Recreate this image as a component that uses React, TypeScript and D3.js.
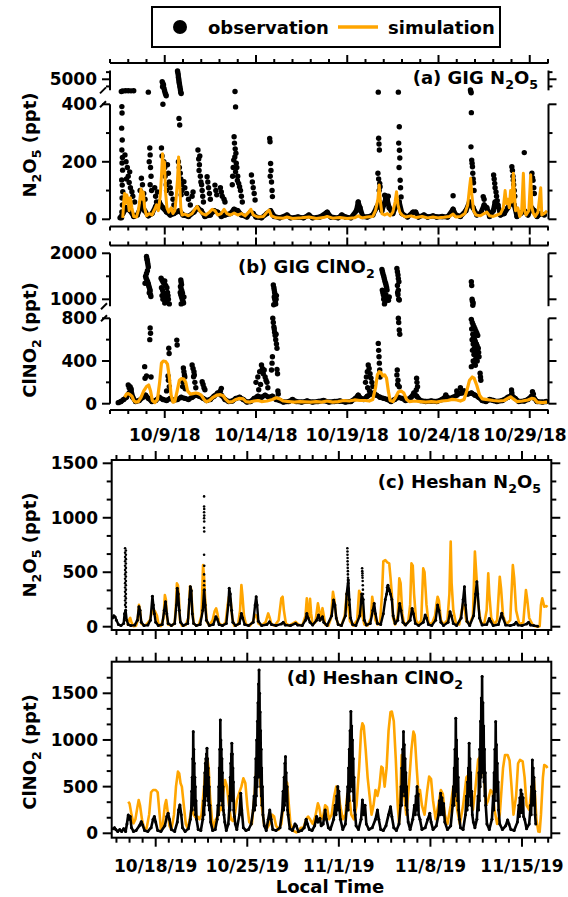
import React from "react";
import * as d3 from "d3";

type P = [number, number];

// ---------- GIG 2018: time in days after 2018-10-06 00:00 ----------
const gigN2O5Sim: P[] = [
  [0.70,5],[0.75,60],[0.80,90],[0.85,55],[0.92,85],[0.98,70],[1.05,30],[1.12,75],[1.20,40],[1.30,10],[1.45,8],[1.55,30],[1.62,60],[1.70,105],[1.76,70],[1.82,95],[1.90,40],[2.00,12],[2.15,20],[2.30,15],[2.45,35],[2.55,50],[2.65,30],[2.75,80],[2.82,150],[2.88,228],[2.93,160],[2.98,200],[3.05,90],[3.12,40],[3.22,25],[3.35,40],[3.45,20],[3.55,30],[3.62,70],[3.70,140],[3.76,217],[3.82,120],[3.88,40],[3.95,15],[4.10,18],[4.30,12],[4.50,20],[4.65,35],[4.78,45],[4.90,30],[5.05,20],[5.25,15],[5.45,25],[5.60,35],[5.75,30],[5.90,15],[6.10,20],[6.25,35],[6.40,20],[6.60,15],[6.80,22],[7.00,15],[7.20,20],[7.40,12],[7.60,25],[7.72,35],[7.85,15],[8.10,8],[8.40,10],[8.60,25],[8.72,32],[8.85,12],[9.10,5],[9.50,4],[9.70,8],[10.00,3],[10.50,5],[10.90,8],[11.30,3],[11.70,6],[11.90,10],[12.20,4],[12.60,6],[13.00,3],[13.40,5],[13.60,12],[13.80,5],[14.10,8],[14.40,10],[14.55,30],[14.68,70],[14.75,119],[14.82,60],[14.90,20],[15.05,15],[15.20,20],[15.35,12],[15.50,25],[15.62,60],[15.70,96],[15.78,50],[15.88,25],[16.00,15],[16.20,8],[16.50,12],[16.80,6],[17.10,10],[17.40,5],[17.70,8],[18.00,5],[18.30,7],[18.60,10],[18.80,18],[18.95,8],[19.20,10],[19.45,20],[19.60,50],[19.70,110],[19.76,143],[19.82,90],[19.92,30],[20.05,15],[20.30,12],[20.50,20],[20.65,25],[20.80,12],[21.00,10],[21.20,15],[21.40,20],[21.55,40],[21.65,100],[21.72,55],[21.80,70],[21.88,40],[21.95,100],[22.02,60],[22.10,160],[22.16,90],[22.22,30],[22.35,40],[22.45,10],[22.55,20],[22.65,160],[22.72,30],[22.80,15],[22.95,30],[23.05,155],[23.12,40],[23.20,20],[23.30,10],[23.45,25],[23.60,110],[23.66,15],[23.80,20],[23.95,30]
];

const gigN2O5ObsBase: P[] = [
  [0.55,5],[0.7,20],[0.9,40],[1.1,30],[1.3,10],[1.5,15],[1.7,45],[1.9,30],[2.1,12],[2.3,20],[2.5,45],[2.7,60],[2.9,40],[3.1,25],[3.3,15],[3.5,20],[3.8,30],[4.0,15],[4.3,10],[4.6,25],[4.8,40],[5.0,30],[5.2,10],[5.5,15],[5.7,30],[5.9,25],[6.1,10],[6.3,15],[6.6,20],[6.8,35],[7.0,30],[7.2,15],[7.5,8],[7.7,25],[7.85,20],[8.0,8],[8.3,5],[8.6,20],[8.8,30],[9.0,10],[9.3,5],[9.7,15],[9.9,5],[10.3,8],[10.6,5],[10.9,15],[11.1,5],[11.5,8],[11.9,25],[12.1,8],[12.5,5],[12.7,15],[12.9,8],[13.2,5],[13.5,30],[13.6,60],[13.7,40],[13.85,10],[14.1,8],[14.4,15],[14.6,40],[14.75,60],[14.9,30],[15.0,50],[15.15,80],[15.3,40],[15.5,20],[15.7,50],[15.85,60],[16.0,20],[16.3,8],[16.6,25],[16.75,25],[16.9,8],[17.2,15],[17.4,8],[17.7,12],[17.9,8],[18.2,10],[18.5,8],[18.8,35],[18.95,15],[19.2,10],[19.5,30],[19.7,60],[19.9,40],[20.1,15],[20.3,20],[20.5,50],[20.65,40],[20.8,10],[21.0,30],[21.1,60],[21.25,50],[21.4,15],[21.6,20],[21.8,40],[22.0,60],[22.15,50],[22.3,10],[22.5,20],[22.7,30],[22.9,15],[23.1,40],[23.25,30],[23.4,10],[23.6,20],[23.8,15]
];

const gigN2O5ObsDots: P[] = [
  [0.62,3300],[0.65,392],[0.66,370],[0.64,317],[0.67,276],[0.65,241],[0.68,215],[0.66,196],[0.69,171],[0.64,137],[0.67,119],[0.70,96],[0.66,74],[0.68,50],[0.65,26],[0.63,5],
  [0.70,3350],[0.85,3400],[1.0,3400],[1.15,3380],[1.30,3400],
  [0.82,224],[0.88,200],[0.95,180],[1.0,150],[1.05,128],[1.12,110],[1.2,96],[1.25,80],[1.35,60],[0.9,140],[1.08,165],
  [1.65,100],[1.72,143],[1.78,120],[1.85,90],[1.92,70],[1.8,60],
  [2.10,3200],[2.18,248],[2.2,224],[2.15,200],[2.22,180],[2.25,150],[2.2,120],[2.28,100],
  [2.45,110],[2.5,80],[2.55,60],[2.6,95],
  [2.86,4650],[2.9,4400],[2.93,4200],[2.88,3950],[2.96,3700],[2.99,3400],[3.02,3100],[3.05,2900],[3.08,2700],
  [2.9,400],[2.82,248],[2.85,220],[2.95,200],[3.0,180],[3.02,150],[3.08,120],[3.1,100],
  [3.15,190],[3.2,160],[3.25,130],[3.3,110],[3.35,90],[3.45,70],[3.5,50],[3.4,29],
  [3.7,6150],[3.72,5900],[3.74,5600],[3.75,5300],[3.77,5000],[3.78,4700],[3.8,4400],[3.82,4100],[3.84,3800],[3.86,3500],[3.88,3200],[3.9,3000],
  [3.78,351],[3.82,328],[3.75,200],[3.8,180],[3.85,160],[3.88,140],[3.92,120],[3.95,100],[3.9,85],
  [4.05,131],[4.1,110],[4.2,90],[4.3,70],[4.4,50],[4.5,80],[4.55,95],
  [4.82,241],[4.86,210],[4.9,190],[4.88,170],[4.95,150],[4.98,130],[5.02,120],[5.05,100],[5.08,80],[5.12,60],[4.92,220],
  [5.32,148],[5.36,130],[5.4,110],[5.45,90],[5.5,70],
  [5.75,119],[5.8,100],[5.85,85],[6.05,110],[6.1,95],[6.15,80],[6.25,70],[6.3,60],
  [6.85,3300],[6.88,391],[6.8,287],[6.82,265],[6.86,245],[6.9,230],[6.84,217],[6.78,206],[6.92,195],[6.95,180],[6.88,165],[7.0,150],[6.98,135],[7.05,125],[7.1,113],[6.75,180],[6.72,150],[6.7,120],[7.15,100],[7.2,80],[7.25,60],
  [7.75,154],[7.8,130],[7.85,110],[7.9,90],[7.95,67],
  [8.75,281],[8.77,270],[8.8,194],[8.82,170],[8.78,150],[8.85,130],[8.88,100],[8.9,79],
  [14.7,3200],[14.72,282],[14.74,262],[14.76,241],[14.68,160],[14.72,140],[14.78,125],[14.8,113],[14.75,100],
  [15.05,84],[15.1,75],[15.2,67],[15.25,80],
  [15.8,3200],[15.85,322],[15.82,265],[15.86,240],[15.88,213],[15.9,136],[15.92,110],[15.95,78],[15.84,180],
  [18.8,82],
  [19.75,3500],[19.77,3300],[19.79,3100],[19.8,371],[19.78,252],[19.82,206],[19.84,195],[19.86,183],[19.88,160],[19.9,140],[19.92,127],[19.95,100],
  [20.45,79],[20.5,70],
  [21.02,154],[21.05,140],[21.08,125],[21.1,110],[21.15,95],[21.18,80],[21.22,65],[21.25,50],
  [22.02,183],[22.05,170],[22.08,150],[22.1,136],[22.12,120],[22.15,100],[22.18,80],
  [22.7,232],
  [23.12,160],[23.15,145],[23.18,136],[23.22,110],[23.25,90]
];

const gigClNO2Sim: P[] = [
  [0.8,60],[0.9,90],[1.0,95],[1.1,85],[1.2,70],[1.3,30],[1.4,15],[1.55,20],[1.7,60],[1.85,120],[2.0,160],[2.12,175],[2.22,120],[2.32,30],[2.45,10],[2.6,40],[2.72,200],[2.82,380],[2.92,400],[3.05,395],[3.15,370],[3.25,250],[3.35,80],[3.45,15],[3.55,20],[3.68,120],[3.8,220],[3.92,235],[4.05,230],[4.15,200],[4.25,120],[4.4,90],[4.55,95],[4.7,100],[4.85,95],[5.0,80],[5.15,40],[5.28,18],[5.45,30],[5.65,60],[5.85,80],[6.05,85],[6.2,75],[6.35,40],[6.5,15],[6.7,20],[6.9,40],[7.1,50],[7.3,45],[7.45,20],[7.65,15],[7.9,25],[8.1,30],[8.3,20],[8.6,25],[8.9,40],[9.1,55],[9.3,45],[9.5,25],[9.8,20],[10.1,15],[10.4,20],[10.7,18],[11.0,15],[11.3,20],[11.6,15],[11.9,25],[12.2,15],[12.5,20],[12.8,30],[13.1,25],[13.4,35],[13.7,30],[14.0,30],[14.2,25],[14.4,40],[14.55,150],[14.65,270],[14.75,300],[14.85,290],[14.95,260],[15.05,270],[15.15,240],[15.25,120],[15.35,30],[15.5,20],[15.65,60],[15.8,110],[15.95,120],[16.1,100],[16.25,40],[16.4,20],[16.7,25],[17.0,20],[17.3,15],[17.6,20],[17.9,15],[18.2,25],[18.5,30],[18.75,40],[19.0,35],[19.2,25],[19.4,40],[19.55,120],[19.7,220],[19.85,250],[19.95,240],[20.1,170],[20.25,80],[20.4,45],[20.6,40],[20.8,35],[21.0,30],[21.3,25],[21.6,30],[21.8,50],[21.95,65],[22.1,45],[22.3,20],[22.6,25],[22.9,35],[23.1,50],[23.25,45],[23.4,15],[23.7,10],[23.95,15]
];

const gigClNO2ObsBase: P[] = [
  [0.45,10],[0.6,20],[0.75,40],[0.9,60],[1.05,100],[1.15,130],[1.25,60],[1.4,20],[1.6,30],[1.8,60],[1.95,80],[2.1,50],[2.3,20],[2.5,30],[2.7,60],[2.9,40],[3.1,30],[3.3,50],[3.5,30],[3.7,40],[3.9,60],[4.1,50],[4.3,40],[4.5,60],[4.7,80],[4.9,70],[5.1,50],[5.3,30],[5.5,40],[5.7,70],[5.9,100],[6.1,80],[6.3,40],[6.5,20],[6.7,25],[6.9,50],[7.1,60],[7.3,40],[7.5,15],[7.7,20],[7.9,50],[8.1,70],[8.3,60],[8.5,80],[8.7,60],[8.9,70],[9.1,40],[9.3,30],[9.5,15],[9.8,20],[10.0,40],[10.2,20],[10.5,15],[10.8,25],[11.1,15],[11.4,20],[11.7,30],[12.0,15],[12.3,20],[12.6,25],[12.9,15],[13.2,20],[13.45,50],[13.6,80],[13.75,50],[13.9,40],[14.1,70],[14.3,90],[14.45,100],[14.6,80],[14.8,60],[15.0,50],[15.2,40],[15.4,20],[15.6,40],[15.8,60],[16.0,50],[16.2,30],[16.5,60],[16.65,100],[16.8,70],[17.0,30],[17.3,20],[17.6,25],[17.9,20],[18.2,40],[18.4,70],[18.6,50],[18.8,60],[19.0,80],[19.2,100],[19.4,120],[19.6,90],[19.8,100],[20.0,80],[20.2,60],[20.4,30],[20.6,20],[20.8,40],[21.0,30],[21.2,20],[21.5,30],[21.8,60],[22.0,80],[22.2,50],[22.4,20],[22.7,25],[22.9,40],[23.1,70],[23.25,50],[23.4,20],[23.7,15],[23.9,20]
];

const gigClNO2ObsDots: P[] = [
  [1.0,175],[1.05,150],[1.1,160],[1.15,140],
  [2.0,1930],[2.02,1880],[2.04,1850],[2.06,1800],[2.08,1750],[2.1,1700],[2.05,1620],[2.0,1560],[1.95,1500],[1.98,1460],[2.02,1420],[2.06,1380],[2.1,1340],[2.12,1300],[2.15,1260],[2.18,1220],[2.2,1180],[2.15,1140],[2.22,1100],[2.24,1060],[1.92,1350],
  [2.2,710],[2.22,660],[2.18,600],[1.9,347],[1.92,238],[2.0,260],[2.25,250],
  [2.8,1460],[2.85,1420],[2.9,1380],[2.95,1350],[3.0,1400],[3.05,1300],[2.82,1250],[2.88,1200],[2.92,1150],[2.97,1100],[3.02,1050],[3.07,1000],[3.12,1250],[3.15,1150],[3.18,1080],[3.1,950],[3.0,920],[2.9,1000],[2.85,1080],[3.2,1000],[3.25,900],
  [3.22,520],[3.24,470],[3.18,260],[3.2,220],[3.25,160],[3.1,120],
  [3.88,1420],[3.9,1370],[3.92,1320],[3.86,1280],[3.9,1230],[3.94,1180],[3.97,1130],[3.88,1100],[3.92,1050],[3.96,1000],[4.0,960],[4.03,920],[3.9,900],[4.05,1050],[3.85,1150],
  [3.66,596],[3.68,550],[4.02,334],[4.05,300],[4.08,270],[4.1,250],[4.0,200],[3.98,160],[4.12,140],
  [4.5,362],[4.55,330],[4.6,300],[4.62,270],[4.58,253],[4.65,200],[4.7,150],
  [5.05,206],[5.1,180],[5.15,150],[5.2,130],
  [6.1,144],[6.05,120],
  [8.0,200],[8.1,250],[8.2,300],[8.3,362],[8.35,330],[8.4,280],[8.45,316],[8.5,250],[8.55,220],[8.6,200],[8.65,150],[8.25,180],[8.15,130],
  [8.95,1310],[8.98,1250],[9.0,1200],[9.02,1150],[9.05,1100],[9.0,1050],[9.03,1000],[9.06,950],[9.08,900],[8.97,880],[9.1,1000],[9.12,1080],
  [8.92,800],[8.95,760],[8.98,720],[9.0,700],[9.02,670],[9.05,640],[9.08,600],[9.1,650],[9.12,560],[9.15,520],[8.9,440],[8.88,380],[8.85,316],[9.15,320],[9.18,280],[9.2,120],[9.22,90],
  [14.0,200],[14.05,250],[14.1,300],[14.15,362],[14.2,330],[14.25,280],[14.3,240],[14.35,200],[14.4,160],[14.12,150],[14.22,120],
  [14.7,565],[14.72,500],[14.74,440],[14.76,380],[14.78,316],[14.8,250],
  [14.9,1650],[14.93,1600],[14.96,1550],[15.0,1500],[15.03,1450],[15.06,1400],[15.1,1350],[15.13,1300],[15.16,1250],[14.92,1200],[14.95,1150],[14.98,1100],[15.02,1050],[15.05,1000],[15.08,950],[15.12,1100],[15.18,1200],[15.22,1000],[15.26,980],[15.3,1050],[15.0,1000],[15.04,900],
  [15.72,1670],[15.75,1600],[15.78,1530],[15.8,1450],[15.83,1380],[15.75,1300],[15.8,1200],[15.78,1100],[15.82,1000],[15.85,985],[15.76,1150],
  [15.8,800],[15.82,760],[15.85,690],[15.88,650],[15.74,316],[15.72,270],[15.78,220],[15.76,180],[15.85,159],
  [16.8,238],[16.82,200],[16.85,159],[16.78,128],
  [18.4,82],[19.0,120],[19.2,150],[19.3,100],
  [19.8,1380],[19.82,1300],[19.84,1000],[19.86,960],[19.9,920],[19.88,870],
  [19.8,790],[19.85,760],[19.9,740],[19.95,720],[20.0,700],[20.05,680],[20.1,660],[20.15,640],[19.82,700],[19.88,650],[19.92,620],[19.98,600],[20.02,580],[20.08,560],[20.12,540],[20.18,520],[19.84,600],[19.9,560],[19.96,520],[20.0,500],[20.06,480],[20.1,460],[20.14,440],[19.86,500],[19.94,460],[20.04,420],[20.12,400],[19.9,400],[19.96,380],[20.02,360],[19.8,347],[20.2,480],[20.22,440],[20.28,286],[20.3,250],[20.32,220],
  [22.0,128],[22.02,100],[23.15,112],[23.2,90]
];

// ---------- Heshan 2019: time in days after 2019-10-15 00:00 ----------
const heshanN2O5Sim: P[] = [
  [0.85,10],[0.95,60],[1.05,80],[1.15,40],[1.3,5],[1.5,10],[1.62,60],[1.72,200],[1.8,150],[1.9,30],[2.1,10],[2.3,20],[2.55,60],[2.7,130],[2.8,160],[2.95,140],[3.1,100],[3.2,30],[3.4,5],[3.6,80],[3.7,290],[3.78,250],[3.85,100],[3.95,20],[4.2,10],[4.45,30],[4.55,200],[4.62,398],[4.7,380],[4.78,250],[4.85,60],[5.0,10],[5.3,15],[5.5,80],[5.62,370],[5.7,350],[5.78,200],[5.9,30],[6.1,10],[6.3,20],[6.5,100],[6.62,566],[6.7,450],[6.78,250],[6.9,50],[7.1,10],[7.35,60],[7.5,140],[7.62,169],[7.72,120],[7.85,30],[8.1,10],[8.35,40],[8.5,200],[8.6,276],[8.72,250],[8.85,80],[9.0,10],[9.3,20],[9.45,150],[9.55,383],[9.62,300],[9.75,100],[9.9,20],[10.2,10],[10.45,50],[10.6,110],[10.72,100],[10.85,30],[11.1,10],[11.4,40],[11.6,122],[11.72,80],[11.85,20],[12.1,10],[12.4,60],[12.6,260],[12.7,275],[12.8,150],[12.95,30],[13.2,10],[13.5,30],[13.7,45],[13.9,20],[14.2,10],[14.45,100],[14.55,260],[14.62,150],[14.72,80],[14.8,255],[14.88,120],[15.0,20],[15.2,40],[15.4,214],[15.5,150],[15.6,60],[15.75,170],[15.85,100],[15.95,20],[16.2,10],[16.4,80],[16.55,321],[16.65,250],[16.8,80],[16.95,20],[17.2,10],[17.45,100],[17.6,306],[17.7,200],[17.85,50],[18.1,10],[18.4,60],[18.55,330],[18.65,300],[18.8,100],[18.95,20],[19.2,10],[19.45,80],[19.55,275],[19.65,200],[19.8,60],[19.95,20],[20.15,40],[20.3,300],[20.4,600],[20.55,612],[20.7,590],[20.85,581],[20.95,450],[21.05,300],[21.15,80],[21.3,20],[21.5,100],[21.62,444],[21.72,400],[21.85,120],[22.0,20],[22.3,40],[22.45,200],[22.55,581],[22.65,560],[22.75,300],[22.9,60],[23.1,20],[23.3,60],[23.45,536],[23.55,500],[23.7,200],[23.85,40],[24.1,20],[24.35,100],[24.45,200],[24.55,275],[24.65,240],[24.8,60],[25.0,20],[25.3,60],[25.45,300],[25.55,781],[25.62,400],[25.75,150],[25.95,30],[26.2,20],[26.4,150],[26.5,214],[26.6,180],[26.75,50],[27.0,20],[27.25,100],[27.4,689],[27.5,500],[27.65,200],[27.85,40],[28.1,20],[28.3,150],[28.42,490],[28.5,300],[28.65,80],[28.9,20],[29.1,60],[29.3,459],[29.4,350],[29.55,100],[29.8,20],[30.1,60],[30.3,566],[30.4,450],[30.55,150],[30.8,20],[31.1,40],[31.3,337],[31.4,250],[31.55,80],[31.8,20],[32.0,5],[32.2,0],[32.35,5],[32.45,200],[32.55,260],[32.7,184],[32.85,190],[32.95,180]
];

const heshanN2O5Obs: P[] = [
  [-0.3,80],[-0.2,100],[-0.1,90],[0.0,60],[0.15,20],[0.35,10],[0.55,30],[0.62,120],[0.7,150],[0.78,60],[0.9,20],[1.1,10],[1.4,15],[1.6,60],[1.72,184],[1.8,150],[1.9,40],[2.1,10],[2.4,15],[2.6,60],[2.75,280],[2.82,200],[2.9,120],[3.0,40],[3.2,10],[3.5,20],[3.65,150],[3.75,230],[3.85,120],[3.95,30],[4.2,10],[4.45,30],[4.58,200],[4.65,352],[4.72,300],[4.8,150],[4.9,40],[5.1,10],[5.45,30],[5.58,250],[5.65,367],[5.72,330],[5.8,120],[5.9,30],[6.1,10],[6.4,20],[6.6,150],[6.7,338],[6.78,200],[6.88,60],[7.1,10],[7.4,20],[7.6,92],[7.7,70],[7.85,20],[8.1,10],[8.4,30],[8.55,200],[8.62,352],[8.7,300],[8.8,150],[8.9,40],[9.1,10],[9.4,30],[9.55,122],[9.65,80],[9.8,20],[10.1,10],[10.45,40],[10.6,200],[10.68,275],[10.75,200],[10.85,50],[11.1,10],[11.5,20],[11.7,45],[11.85,20],[12.2,10],[12.6,25],[12.75,40],[12.9,15],[13.3,10],[13.7,30],[13.85,15],[14.2,10],[14.45,60],[14.55,122],[14.65,80],[14.8,40],[15.0,15],[15.3,60],[15.45,107],[15.55,60],[15.75,92],[15.85,40],[16.1,10],[16.45,100],[16.6,245],[16.7,200],[16.8,80],[16.95,20],[17.2,10],[17.5,100],[17.6,300],[17.72,428],[17.8,250],[17.9,80],[18.05,20],[18.3,10],[18.6,100],[18.75,300],[18.85,250],[18.95,60],[19.1,15],[19.4,30],[19.6,150],[19.7,214],[19.8,120],[19.95,30],[20.2,20],[20.4,120],[20.55,250],[20.65,300],[20.75,380],[20.85,340],[20.95,300],[21.05,250],[21.15,100],[21.3,30],[21.5,60],[21.65,214],[21.75,150],[21.9,40],[22.1,15],[22.45,60],[22.6,168],[22.7,120],[22.85,30],[23.1,10],[23.45,40],[23.6,107],[23.7,80],[23.85,20],[24.1,10],[24.4,60],[24.55,199],[24.65,150],[24.8,40],[25.0,10],[25.35,40],[25.5,138],[25.6,100],[25.75,30],[26.0,10],[26.35,80],[26.5,250],[26.6,367],[26.68,200],[26.8,50],[27.0,10],[27.3,100],[27.45,300],[27.55,413],[27.62,300],[27.75,80],[27.95,15],[28.3,20],[28.5,76],[28.6,50],[28.8,10],[29.2,20],[29.45,123],[29.55,80],[29.75,15],[30.1,10],[30.4,20],[30.55,40],[30.7,15],[31.0,10],[31.35,25],[31.5,40],[31.65,15],[31.9,10],[32.2,5]
];

const heshanN2O5ObsDots: P[] = [
  [0.66,720],[0.66,680],[0.66,640],[0.66,600],[0.66,560],[0.66,520],[0.66,480],[0.66,440],[0.66,400],[0.66,360],[0.66,320],[0.66,280],[0.66,240],[0.66,200],
  [0.72,700],[0.72,660],[0.72,620],[0.72,580],[0.72,540],[0.72,500],[0.72,460],[0.72,420],[0.72,380],[0.72,340],[0.72,300],[0.72,260],[0.72,220],[0.72,180],
  [6.7,1196],[6.7,1104],[6.71,1080],[6.7,1050],[6.71,1020],[6.7,995],[6.71,966],[6.7,908],[6.71,874],[6.7,660],[6.71,560],[6.7,480],[6.71,420],[6.7,380],[6.72,338],
  [17.65,720],[17.66,690],[17.66,660],[17.67,630],[17.67,600],[17.68,570],[17.68,540],[17.69,510],[17.69,480],[17.7,450],[17.7,428],[17.72,400],[17.74,350],[17.76,300],[17.78,250],[17.8,200],
  [18.78,536],[18.79,510],[18.8,490],[18.8,470],[18.81,450],[18.82,420],[18.83,380],[18.84,340],[18.85,300],[18.86,250],
  [20.68,360],[20.72,340],[20.8,330],[20.9,320]
];

const heshanClNO2Sim: P[] = [
  [0.9,339],[1.0,320],[1.15,200],[1.3,107],[1.45,150],[1.6,280],[1.7,357],[1.8,300],[1.95,150],[2.1,60],[2.3,50],[2.5,200],[2.65,440],[2.8,464],[3.0,464],[3.15,440],[3.3,200],[3.4,40],[3.55,100],[3.7,300],[3.8,357],[3.9,250],[4.05,80],[4.2,40],[4.4,200],[4.55,500],[4.7,661],[4.8,640],[4.9,536],[5.0,500],[5.15,300],[5.3,100],[5.45,50],[5.6,150],[5.75,286],[5.9,200],[6.05,170],[6.2,179],[6.35,150],[6.5,200],[6.7,500],[6.85,780],[6.95,803],[7.05,700],[7.15,400],[7.3,150],[7.45,60],[7.6,150],[7.8,200],[7.95,280],[8.05,250],[8.15,420],[8.3,571],[8.45,500],[8.6,300],[8.75,150],[8.9,130],[9.05,200],[9.2,350],[9.4,440],[9.55,500],[9.7,589],[9.85,540],[10.0,300],[10.15,120],[10.35,100],[10.55,400],[10.7,700],[10.8,714],[10.95,650],[11.1,300],[11.3,80],[11.5,50],[11.7,100],[11.9,200],[12.05,180],[12.2,80],[12.4,40],[12.6,100],[12.8,350],[12.95,560],[13.05,540],[13.15,350],[13.3,100],[13.5,30],[13.75,10],[13.95,20],[14.1,60],[14.3,60],[14.5,150],[14.65,179],[14.8,150],[15.0,100],[15.2,180],[15.4,321],[15.5,280],[15.65,150],[15.8,180],[15.95,300],[16.1,280],[16.25,150],[16.45,200],[16.65,400],[16.8,500],[16.95,460],[17.1,300],[17.3,150],[17.5,200],[17.65,420],[17.8,400],[17.95,200],[18.15,150],[18.35,300],[18.55,700],[18.7,1100],[18.8,1179],[18.9,1150],[19.05,900],[19.2,600],[19.35,400],[19.5,200],[19.65,300],[19.8,464],[19.95,400],[20.1,500],[20.25,714],[20.35,700],[20.5,500],[20.65,700],[20.8,1100],[20.95,1300],[21.05,1304],[21.2,1200],[21.35,800],[21.5,300],[21.6,107],[21.7,400],[21.8,839],[21.9,750],[22.0,400],[22.15,200],[22.35,500],[22.55,900],[22.7,1089],[22.8,1050],[22.95,700],[23.1,400],[23.2,464],[23.35,300],[23.55,200],[23.75,450],[23.9,607],[24.05,580],[24.2,350],[24.4,150],[24.6,300],[24.8,464],[24.95,420],[25.1,200],[25.3,100],[25.55,300],[25.75,500],[25.9,480],[26.05,250],[26.25,100],[26.5,300],[26.75,600],[26.9,625],[27.05,500],[27.25,250],[27.45,500],[27.65,790],[27.8,821],[27.95,800],[28.1,600],[28.25,300],[28.4,350],[28.6,464],[28.75,440],[28.9,250],[29.1,100],[29.3,200],[29.55,700],[29.7,839],[29.9,839],[30.05,780],[30.2,500],[30.35,200],[30.55,400],[30.7,750],[30.85,786],[31.05,770],[31.2,600],[31.35,300],[31.55,250],[31.75,500],[31.9,600],[32.0,400],[32.1,150],[32.25,20],[32.35,15],[32.45,200],[32.6,600],[32.7,732],[32.85,720],[32.95,700]
];

const heshanClNO2Obs: P[] = [
  [-0.25,50],[-0.15,60],[-0.05,40],[0.1,20],[0.25,40],[0.4,20],[0.55,50],[0.7,20],[0.8,100],[0.9,196],[0.95,150],[1.05,180],[1.15,60],[1.3,20],[1.5,30],[1.75,80],[1.9,125],[2.0,90],[2.15,30],[2.4,20],[2.65,60],[2.8,150],[2.9,179],[3.0,120],[3.15,30],[3.4,20],[3.7,80],[3.85,180],[3.95,214],[4.05,150],[4.2,40],[4.45,20],[4.65,120],[4.75,250],[4.85,304],[4.95,200],[5.05,60],[5.25,20],
  [5.5,50],[5.65,150],[5.72,250],[5.75,450],[5.77,250],[5.79,600],[5.81,300],[5.83,800],[5.85,400],[5.87,1089],[5.89,500],[5.91,900],[5.93,350],[5.95,750],[5.97,300],[5.99,600],[6.01,250],[6.03,500],[6.05,200],[6.08,350],[6.12,150],[6.25,40],
  [6.45,30],[6.6,150],[6.68,350],[6.7,200],[6.72,500],[6.74,300],[6.76,650],[6.78,350],[6.8,750],[6.82,400],[6.84,800],[6.86,450],[6.88,850],[6.9,500],[6.92,911],[6.94,450],[6.96,800],[6.98,400],[7.0,700],[7.02,350],[7.04,600],[7.06,300],[7.08,500],[7.1,250],[7.14,300],[7.2,120],[7.35,30],
  [7.55,40],[7.7,150],[7.76,300],[7.8,200],[7.82,500],[7.84,300],[7.86,700],[7.88,350],[7.9,900],[7.92,400],[7.94,1214],[7.96,500],[7.98,1000],[8.0,450],[8.02,900],[8.04,400],[8.06,800],[8.08,350],[8.1,650],[8.12,300],[8.14,500],[8.17,250],[8.22,200],[8.28,120],[8.4,30],
  [8.55,100],[8.62,250],[8.66,400],[8.68,250],[8.7,600],[8.72,350],[8.74,750],[8.76,400],[8.78,850],[8.8,450],[8.82,964],[8.84,500],[8.86,850],[8.88,400],[8.9,700],[8.92,350],[8.94,550],[8.97,250],[9.02,180],[9.08,100],[9.2,40],
  [9.4,200],[9.5,429],[9.58,250],[9.7,60],[9.9,30],[10.1,40],
  [10.3,100],[10.45,250],[10.52,400],[10.56,250],[10.6,600],[10.63,300],[10.66,800],[10.69,400],[10.72,1000],[10.75,500],[10.78,1200],[10.8,600],[10.82,1400],[10.84,700],[10.86,1600],[10.88,800],[10.9,1750],[10.92,900],[10.94,1500],[10.96,700],[10.98,1300],[11.0,600],[11.02,1100],[11.04,500],[11.06,900],[11.08,400],[11.1,700],[11.13,300],[11.16,500],[11.2,200],[11.3,80],[11.45,30],
  [11.6,150],[11.72,250],[11.82,150],[11.95,40],[12.2,30],
  [12.5,60],[12.68,250],[12.74,450],[12.78,250],[12.82,600],[12.85,300],[12.88,750],[12.9,400],[12.92,821],[12.94,400],[12.97,650],[13.0,350],[13.04,500],[13.08,250],[13.12,200],[13.25,50],
  [13.45,30],[13.65,100],[13.75,80],[13.9,20],[14.15,30],[14.35,60],[14.5,150],[14.6,100],[14.75,40],[14.95,30],[15.15,80],[15.3,180],[15.4,120],[15.55,160],[15.65,80],[15.8,100],[15.95,250],[16.05,150],[16.2,60],[16.35,40],
  [16.6,150],[16.72,300],[16.78,200],[16.84,400],[16.88,250],[16.92,500],[16.96,300],[17.0,450],[17.05,250],[17.12,150],[17.3,40],
  [17.5,100],[17.62,300],[17.68,500],[17.71,250],[17.74,700],[17.77,350],[17.8,900],[17.83,450],[17.86,1100],[17.89,500],[17.92,1304],[17.95,600],[17.98,1150],[18.01,550],[18.04,1000],[18.07,450],[18.1,800],[18.13,350],[18.16,600],[18.2,250],[18.25,200],[18.32,80],
  [18.5,40],[18.7,150],[18.8,357],[18.9,200],[19.0,300],[19.1,100],[19.3,40],[19.55,60],[19.8,150],[19.95,250],[20.05,150],[20.2,40],[20.4,30],[20.6,80],[20.8,200],[20.95,285],[21.05,180],[21.2,60],[21.4,30],
  [21.6,100],[21.72,300],[21.76,500],[21.79,300],[21.82,700],[21.85,400],[21.88,900],[21.91,450],[21.94,1089],[21.97,500],[22.0,950],[22.03,450],[22.06,800],[22.09,400],[22.12,650],[22.15,300],[22.18,500],[22.22,250],[22.3,120],[22.45,40],
  [22.65,150],[22.78,300],[22.84,200],[22.9,400],[22.94,250],[22.98,500],[23.02,300],[23.06,420],[23.1,200],[23.2,150],[23.35,40],
  [23.6,60],[23.8,150],[23.95,214],[24.05,120],[24.2,40],
  [24.45,80],[24.62,200],[24.7,350],[24.74,200],[24.78,429],[24.82,250],[24.88,380],[24.94,200],[25.0,320],[25.1,120],[25.3,40],
  [25.55,80],[25.7,300],[25.76,500],[25.79,300],[25.82,700],[25.85,400],[25.88,900],[25.91,450],[25.94,1232],[25.97,550],[26.0,1000],[26.03,450],[26.06,800],[26.09,350],[26.12,600],[26.16,250],[26.22,150],[26.3,60],
  [26.5,40],[26.68,200],[26.76,400],[26.8,250],[26.84,550],[26.87,300],[26.9,700],[26.93,400],[26.96,964],[26.99,450],[27.02,800],[27.05,400],[27.08,650],[27.11,300],[27.15,450],[27.2,200],[27.28,120],[27.4,60],
  [27.55,150],[27.64,400],[27.68,250],[27.71,650],[27.74,350],[27.77,900],[27.8,500],[27.83,1200],[27.86,600],[27.89,1450],[27.92,700],[27.95,1679],[27.98,800],[28.01,1400],[28.04,650],[28.07,1150],[28.1,550],[28.13,900],[28.16,400],[28.19,650],[28.23,300],[28.32,100],[28.5,40],
  [28.7,150],[28.8,400],[28.84,250],[28.87,650],[28.9,350],[28.93,900],[28.96,450],[28.99,1196],[29.02,550],[29.05,950],[29.08,450],[29.11,750],[29.14,350],[29.17,550],[29.21,250],[29.3,100],[29.5,40],
  [29.75,80],[29.9,143],[30.0,100],[30.15,40],[30.4,30],
  [30.65,120],[30.76,300],[30.8,180],[30.84,380],[30.88,220],[30.92,464],[30.96,250],[31.0,420],[31.04,220],[31.08,380],[31.12,180],[31.2,150],[31.35,50],
  [31.55,100],[31.66,300],[31.7,200],[31.73,500],[31.76,300],[31.79,786],[31.82,400],[31.85,700],[31.88,350],[31.91,600],[31.94,300],[31.97,450],[32.0,200],[32.05,100]
];

// ---------- axis labels ----------
const gigDateLabels = ["10/9/18", "10/14/18", "10/19/18", "10/24/18", "10/29/18"];
const heshanDateLabels = ["10/18/19", "10/25/19", "11/1/19", "11/8/19", "11/15/19"];
const aLowTicks = [0, 200, 400];
const aLowMinor = [100, 300];
const aHighTicks = [5000];
const aHighMinor = [4000, 6000];
const bLowTicks = [0, 400, 800];
const bLowMinor = [200, 600];
const bHighTicks = [1000, 2000];
const bHighMinor = [1500];
const hesTicks = [0, 500, 1000, 1500];

const FONT = "'DejaVu Sans', 'Liberation Sans', Arial, sans-serif";
const ORANGE = "#FFA500";
const DAY = 86400000;
const gigT0 = Date.UTC(2018, 9, 6);
const hesT0 = Date.UTC(2019, 9, 15);
const parseLabel = d3.utcParse("%m/%d/%y");

function chem(s: string, fs: number) {
  const parts = s.split(/(_\d)/).filter((p) => p !== "");
  let low = false;
  const shift = fs * 0.28;
  return parts.map((p, i) => {
    if (p.startsWith("_")) {
      const el = (
        <tspan key={i} fontSize={fs * 0.7} dy={low ? 0 : shift}>
          {p.slice(1)}
        </tspan>
      );
      low = true;
      return el;
    }
    const el = (
      <tspan key={i} dy={low ? -shift : 0}>
        {p}
      </tspan>
    );
    low = false;
    return el;
  });
}

export default function App() {
  // time scales
  const xGig = d3.scaleUtc().domain([new Date(gigT0), new Date(Date.UTC(2018, 9, 30))]).range([110, 548]);
  const xHes = d3
    .scaleUtc()
    .domain([parseLabel(heshanDateLabels[0])!, parseLabel(heshanDateLabels[4])!])
    .range([155.7, 522]);
  const gx = (t: number) => xGig(new Date(gigT0 + t * DAY));
  const hx = (t: number) => xHes(new Date(hesT0 + t * DAY));

  // value scales (panels a and b have broken axes)
  const aLow = d3.scaleLinear().domain([0, 400]).range([219.3, 104.3]);
  const aHigh = d3.scaleLinear().domain([3500, 6300]).range([90, 70]);
  const yA = (v: number) => (v > 450 ? aHigh(v) : aLow(v));
  const bLow = d3.scaleLinear().domain([0, 800]).range([403.7, 318.3]);
  const bHigh = d3.scaleLinear().domain([1000, 2000]).range([299.3, 253.3]);
  const yB = (v: number) => (v > 820 ? bHigh(v) : bLow(v));
  const yC = d3.scaleLinear().domain([0, 1500]).range([626.7, 463.3]);
  const yD = d3.scaleLinear().domain([0, 1500]).range([833.3, 693.3]);

  const lineOf = (fx: (t: number) => number, fy: (v: number) => number) =>
    d3.line<P>().x((p) => fx(p[0])).y((p) => fy(p[1]));

  const gigDays = d3.utcDay.range(new Date(gigT0), new Date(Date.UTC(2018, 9, 30) + 1));
  const gigMajor = new Set(gigDateLabels.map((s) => parseLabel(s)!.getTime()));
  const hesDays = d3.utcDay.range(new Date(hesT0), new Date(hesT0 + 33 * DAY + 1));
  const hesMajor = new Set(heshanDateLabels.map((s) => parseLabel(s)!.getTime()));

  const xTicks = (
    scale: d3.ScaleTime<number, number>,
    days: Date[],
    majors: Set<number>,
    y: number,
    dir: number,
    maj: number,
    min: number,
    k: string
  ) =>
    days.map((d, i) => {
      const x = scale(d);
      const len = majors.has(d.getTime()) ? maj : min;
      return <line key={k + i} x1={x} x2={x} y1={y} y2={y + dir * len} />;
    });

  const yTicks = (vals: number[], fy: (v: number) => number, x: number, dir: number, len: number, k: string) =>
    vals.map((v, i) => <line key={k + i} x1={x} x2={x + dir * len} y1={fy(v)} y2={fy(v)} />);

  const yLabels = (vals: number[], fy: (v: number) => number, x: number, k: string) =>
    vals.map((v, i) => (
      <text key={k + i} x={x} y={fy(v)} dy="0.36em" textAnchor="end" fontSize={17}>
        {v}
      </text>
    ));

  const dots = (pts: P[], fx: (t: number) => number, fy: (v: number) => number, r: number, k: string) =>
    pts.map((p, i) => <circle key={k + i} cx={fx(p[0])} cy={fy(p[1])} r={r} fill="#000" />);

  const hesMinor = [1, 2, 4, 5, 7, 8, 10, 11, 13, 14, 16, 17].map((m) => (m * 500) / 3);
  const hesMinorD = hesMinor.filter((v) => v < 1800);

  const L = 110;
  const R = 548.5;
  const CL = 111.7;
  const CR = 551.3;

  return (
    <svg
      width={568}
      height={897}
      viewBox="0 0 568 897"
      style={{ position: "absolute", left: 0, top: 0, background: "#fff" }}
      fontFamily={FONT}
      fontWeight="bold"
    >
      <rect x={0} y={0} width={568} height={897} fill="#fff" />

      {/* legend */}
      <rect x={152} y={7} width={348} height={40} fill="none" stroke="#000" strokeWidth={2} />
      <circle cx={180} cy={27} r={7} fill="#000" />
      <text x={208} y={33.5} fontSize={18}>observation</text>
      <line x1={338} x2={378} y1={27} y2={27} stroke={ORANGE} strokeWidth={3.5} />
      <text x={388} y={33.5} fontSize={18}>simulation</text>

      {/* ===== panel (a) ===== */}
      <g>
        <path d={lineOf(gx, yA)(gigN2O5ObsBase)!} fill="none" stroke="#000" strokeWidth={5} strokeLinejoin="round" />
        {dots(gigN2O5ObsBase, gx, yA, 2.7, "ab")}
        {dots(gigN2O5ObsDots, gx, yA, 2.7, "ad")}
        <path d={lineOf(gx, yA)(gigN2O5Sim)!} fill="none" stroke={ORANGE} strokeWidth={3} strokeLinejoin="round" />
      </g>
      <g stroke="#000" strokeWidth={2} fill="none">
        <line x1={L} x2={R} y1={63} y2={63} />
        {xTicks(xGig, gigDays, gigMajor, 63, -1, 8, 4, "at")}
        <line x1={L} x2={R} y1={226.5} y2={226.5} />
        {xTicks(xGig, gigDays, gigMajor, 226.5, 1, 8, 4, "ab")}
        <line x1={L} x2={L} y1={aHigh(6230)} y2={aHigh(3450)} />
        <line x1={L} x2={L} y1={aLow(400)} y2={aLow(0)} />
        <line x1={R} x2={R} y1={aHigh(6230)} y2={aHigh(3450)} />
        <line x1={R} x2={R} y1={aLow(400)} y2={aLow(0)} />
        {yTicks(aLowTicks, aLow, L, -1, 8, "al")}
        {yTicks(aLowMinor, aLow, L, -1, 4, "alm")}
        {yTicks(aHighTicks, aHigh, L, -1, 8, "ah")}
        {yTicks(aHighMinor, aHigh, L, -1, 4, "ahm")}
        {yTicks(aLowTicks, aLow, R, 1, 8, "arl")}
        {yTicks(aLowMinor, aLow, R, 1, 4, "arlm")}
        {yTicks(aHighTicks, aHigh, R, 1, 8, "arh")}
        {yTicks(aHighMinor, aHigh, R, 1, 4, "arhm")}
        <line x1={L - 10} x2={L - 4} y1={aHigh(3450) + 3} y2={aHigh(3450) - 3} />
        <line x1={L - 10} x2={L - 4} y1={aLow(400) + 3} y2={aLow(400) - 3} />
      </g>
      {yLabels(aLowTicks, aLow, 97, "alt")}
      {yLabels(aHighTicks, aHigh, 97, "aht")}
      <text x={538} y={83.5} fontSize={18} textAnchor="end">
        {chem("(a) GIG N_2O_5", 18)}
      </text>
      <text transform="translate(36,145) rotate(-90)" textAnchor="middle" fontSize={18}>
        {chem("N_2O_5 (ppt)", 18)}
      </text>

      {/* ===== panel (b) ===== */}
      <g>
        <path d={lineOf(gx, yB)(gigClNO2ObsBase)!} fill="none" stroke="#000" strokeWidth={5} strokeLinejoin="round" />
        {dots(gigClNO2ObsBase, gx, yB, 2.7, "bb")}
        {dots(gigClNO2ObsDots, gx, yB, 2.7, "bd")}
        <path d={lineOf(gx, yB)(gigClNO2Sim)!} fill="none" stroke={ORANGE} strokeWidth={3.2} strokeLinejoin="round" />
      </g>
      <g stroke="#000" strokeWidth={2} fill="none">
        <line x1={L} x2={R} y1={245.5} y2={245.5} />
        {xTicks(xGig, gigDays, gigMajor, 245.5, -1, 8, 4, "bt")}
        <line x1={L} x2={R} y1={410} y2={410} />
        {xTicks(xGig, gigDays, gigMajor, 410, 1, 8, 4, "bbx")}
        <line x1={L} x2={L} y1={bHigh(2000)} y2={bHigh(850)} />
        <line x1={L} x2={L} y1={bLow(800)} y2={bLow(0)} />
        <line x1={R} x2={R} y1={bHigh(2000)} y2={bHigh(850)} />
        <line x1={R} x2={R} y1={bLow(800)} y2={bLow(0)} />
        {yTicks(bLowTicks, bLow, L, -1, 8, "bl")}
        {yTicks(bLowMinor, bLow, L, -1, 4, "blm")}
        {yTicks(bHighTicks, bHigh, L, -1, 8, "bh")}
        {yTicks(bHighMinor, bHigh, L, -1, 4, "bhm")}
        {yTicks(bLowTicks, bLow, R, 1, 8, "brl")}
        {yTicks(bLowMinor, bLow, R, 1, 4, "brlm")}
        {yTicks(bHighTicks, bHigh, R, 1, 8, "brh")}
        {yTicks(bHighMinor, bHigh, R, 1, 4, "brhm")}
        <line x1={L - 9} x2={L - 3} y1={bHigh(850) + 3} y2={bHigh(850) - 3} />
        <line x1={L - 9} x2={L - 3} y1={bLow(800) + 3} y2={bLow(800) - 3} />
      </g>
      {yLabels(bLowTicks, bLow, 97, "blt")}
      {yLabels(bHighTicks, bHigh, 97, "bht")}
      {gigDateLabels.map((s, i) => (
        <text key={"gd" + i} x={Math.min(xGig(parseLabel(s)!), 525)} y={441} textAnchor="middle" fontSize={17}>
          {s}
        </text>
      ))}
      <text x={238} y={273} fontSize={18}>
        {chem("(b) GIG ClNO_2", 18)}
      </text>
      <text transform="translate(36,340) rotate(-90)" textAnchor="middle" fontSize={18}>
        {chem("ClNO_2 (ppt)", 18)}
      </text>

      {/* ===== panel (c) ===== */}
      <g>
        <path d={lineOf(hx, yC)(heshanN2O5Sim)!} fill="none" stroke={ORANGE} strokeWidth={2.6} strokeLinejoin="round" />
        <path d={lineOf(hx, yC)(heshanN2O5Obs)!} fill="none" stroke="#000" strokeWidth={2.4} strokeLinejoin="round" />
        {dots(heshanN2O5Obs, hx, yC, 1.5, "cb")}
        {dots(heshanN2O5ObsDots, hx, yC, 1.3, "cd")}
      </g>
      <g stroke="#000" strokeWidth={2} fill="none">
        <rect x={CL} y={460} width={CR - CL} height={170} />
        {xTicks(xHes, hesDays, hesMajor, 460, -1, 9, 5, "ct")}
        {xTicks(xHes, hesDays, hesMajor, 630, 1, 9, 5, "cbx")}
        {yTicks(hesTicks, yC, CL, -1, 9, "cl")}
        {yTicks(hesMinor.filter((v) => v < 1500), yC, CL, -1, 5, "clm")}
        {yTicks(hesTicks, yC, CR, 1, 9, "cr")}
        {yTicks(hesMinor.filter((v) => v < 1500), yC, CR, 1, 5, "crm")}
      </g>
      {yLabels(hesTicks, yC, 98, "clt")}
      <text x={541} y={488} fontSize={18} textAnchor="end">
        {chem("(c) Heshan N_2O_5", 18)}
      </text>
      <text transform="translate(36,545) rotate(-90)" textAnchor="middle" fontSize={18}>
        {chem("N_2O_5 (ppt)", 18)}
      </text>

      {/* ===== panel (d) ===== */}
      <g>
        <path d={lineOf(hx, yD)(heshanClNO2Sim)!} fill="none" stroke={ORANGE} strokeWidth={2.6} strokeLinejoin="round" />
        <path d={lineOf(hx, yD)(heshanClNO2Obs)!} fill="none" stroke="#000" strokeWidth={2.6} strokeLinejoin="round" />
        {dots(heshanClNO2Obs, hx, yD, 1.5, "db")}
      </g>
      <g stroke="#000" strokeWidth={2} fill="none">
        <rect x={CL} y={661.7} width={CR - CL} height={176} />
        {xTicks(xHes, hesDays, hesMajor, 661.7, -1, 9, 5, "dt")}
        {xTicks(xHes, hesDays, hesMajor, 837.7, 1, 9, 5, "dbx")}
        {yTicks(hesTicks, yD, CL, -1, 9, "dl")}
        {yTicks(hesMinorD, yD, CL, -1, 5, "dlm")}
        {yTicks(hesTicks, yD, CR, 1, 9, "dr")}
        {yTicks(hesMinorD, yD, CR, 1, 5, "drm")}
      </g>
      {yLabels(hesTicks, yD, 98, "dlt")}
      {heshanDateLabels.map((s, i) => (
        <text key={"hd" + i} x={xHes(parseLabel(s)!)} y={871.5} textAnchor="middle" fontSize={17}>
          {s}
        </text>
      ))}
      <text x={463} y={684} fontSize={18} textAnchor="end">
        {chem("(d) Heshan ClNO_2", 18)}
      </text>
      <text transform="translate(36,752) rotate(-90)" textAnchor="middle" fontSize={18}>
        {chem("ClNO_2 (ppt)", 18)}
      </text>
      <text x={330} y={893} textAnchor="middle" fontSize={18}>
        Local Time
      </text>
    </svg>
  );
}
